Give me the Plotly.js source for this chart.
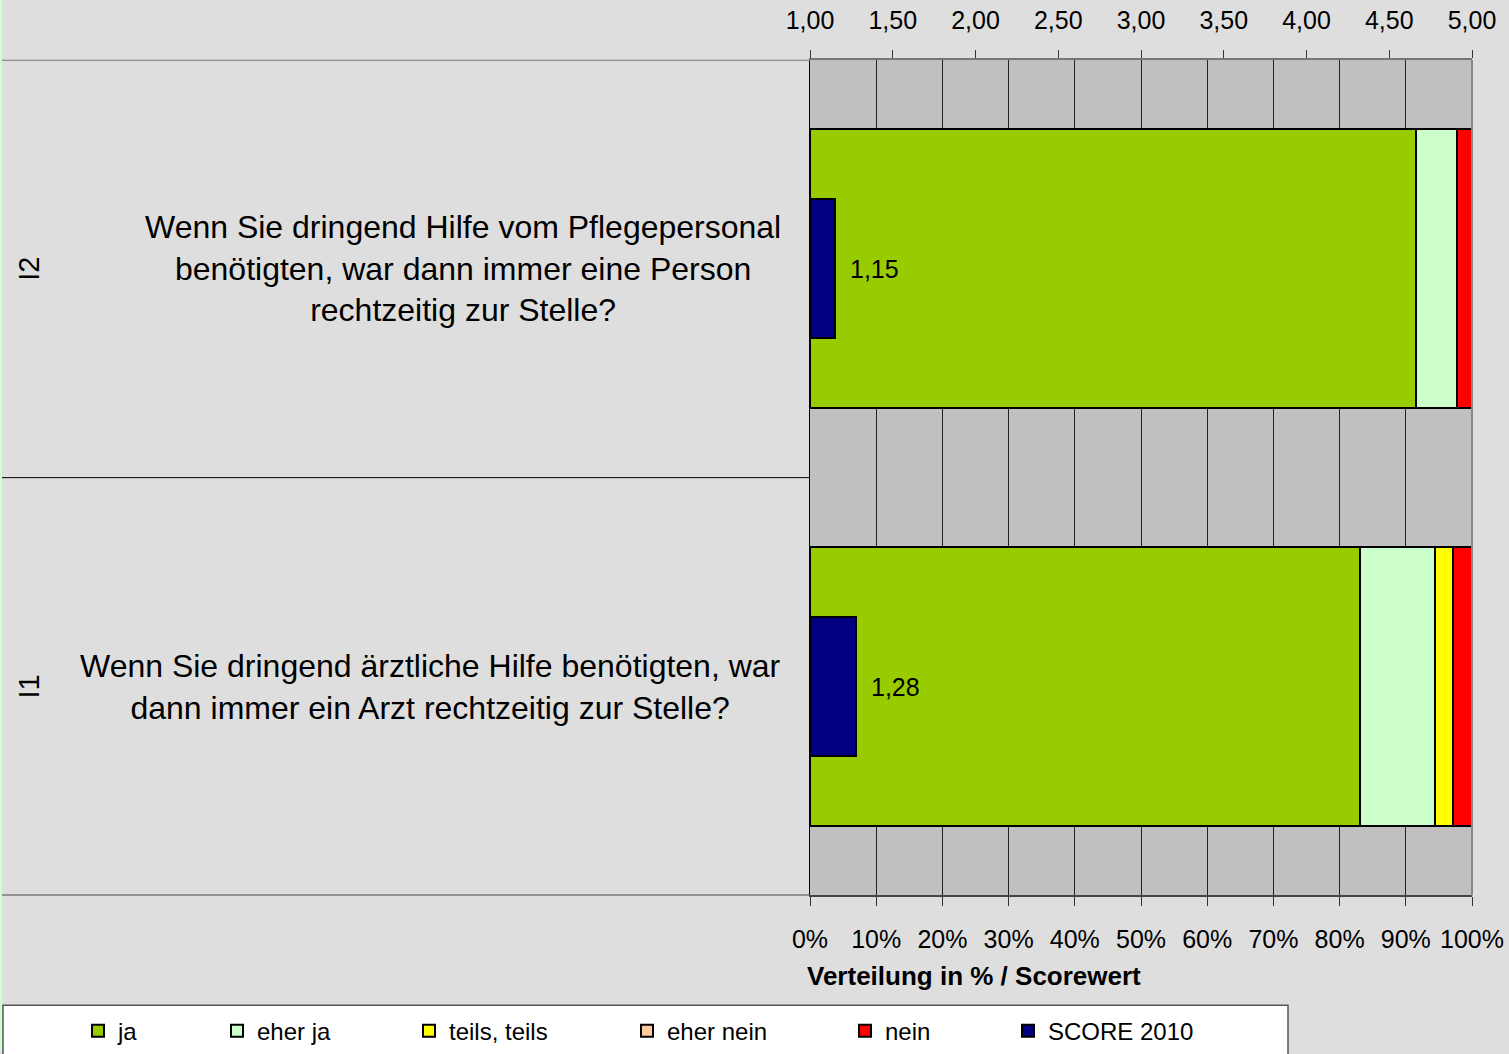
<!DOCTYPE html>
<html><head><meta charset="utf-8">
<script src="https://cdn.plot.ly/plotly-3.0.1.min.js"></script>
<style>html,body{margin:0;padding:0;background:#DEDEDE;} #chart{width:1509px;height:1054px;}</style>
</head><body><div id="chart"></div>
<script>
// ---- data ----
const categories = ['I1', 'I2'];
const categoryLabels = ['I1', 'I2'];
const questions = [
  'Wenn Sie dringend ärztliche Hilfe benötigten, war<br>dann immer ein Arzt rechtzeitig zur Stelle?',
  'Wenn Sie dringend Hilfe vom Pflegepersonal<br>benötigten, war dann immer eine Person<br>rechtzeitig zur Stelle?'
];
const seriesNames = ['ja', 'eher ja', 'teils, teils', 'eher nein', 'nein'];
const ja = [0.831, 0.915];
const eherJa = [0.113, 0.063];
const teilsTeils = [0.027, 0.0];
const eherNein = [0.0, 0.0];
const nein = [0.029, 0.022];
const scoreName = 'SCORE 2010';
const score2010 = [1.28, 1.15];
const scoreMin = 1, scoreMax = 5;
const axisTitle = 'Verteilung in % / Scorewert';

// ---- styles ----
const seriesColors = ['#99CC00', '#CCFFCC', '#FFFF00', '#FFCC99', '#FF0000'];
const scoreColor = '#000080';
const W = 1509, H = 1054;
const plotL = 810, plotR = 1472, plotT = 60, plotB = 898;
const FONT = 'Liberation Sans, Arial, sans-serif';
const px = v => v / W;
const py = v => 1 - v / H;

const seriesValues = [ja, eherJa, teilsTeils, eherNein, nein];
const traces = seriesValues.map((vals, i) => ({
  type: 'bar', orientation: 'h', name: seriesNames[i],
  y: categories, x: vals, width: 2/3,
  xaxis: 'x', yaxis: 'y',
  marker: {color: seriesColors[i], line: {color: '#000', width: 2}},
  legend: i === 0 ? 'legend' : 'legend' + (i + 1),
  hoverinfo: 'x+name'
}));
traces.push({
  type: 'bar', orientation: 'h', name: scoreName,
  y: categories, x: score2010.map(v => v - scoreMin), base: scoreMin, width: 1/3,
  xaxis: 'x2', yaxis: 'y',
  marker: {color: scoreColor, line: {color: '#000', width: 2}},
  legend: 'legend6',
  hoverinfo: 'name'
});

// legend text start positions (px) in reference
const legendTextX = [118, 257, 449, 667, 885, 1048];
const legendY = 1034;
const legends = {};
legendTextX.forEach((tx, i) => {
  const key = i === 0 ? 'legend' : 'legend' + (i + 1);
  legends[key] = {
    x: px(tx - 40), xanchor: 'left', y: py(legendY), yanchor: 'middle',
    orientation: 'h', bgcolor: 'rgba(0,0,0,0)', borderwidth: 0,
    font: {family: FONT, size: 24, color: '#000'}
  };
});

const annotations = [];
categories.forEach((c, i) => {
  annotations.push({
    xref: 'paper', yref: 'y', x: px(783), y: c, xanchor: 'right', yanchor: 'middle',
    text: questions[i], align: 'center', showarrow: false,
    font: {family: FONT, size: 32, color: '#000'}
  });
  annotations.push({
    xref: 'paper', yref: 'y', x: px(29), y: c, xanchor: 'center', yanchor: 'middle',
    text: categoryLabels[i], textangle: -90, showarrow: false,
    font: {family: FONT, size: 29, color: '#000'}
  });
  annotations.push({
    xref: 'x2', yref: 'y', x: score2010[i], y: c, xanchor: 'left', yanchor: 'middle',
    xshift: 13, text: score2010[i].toFixed(2).replace('.', ','), showarrow: false,
    font: {family: FONT, size: 25, color: '#000'}
  });
});
annotations.push({
  xref: 'paper', yref: 'paper', x: px(805), y: py(979), xanchor: 'left', yanchor: 'middle',
  text: '<b>' + axisTitle + '</b>', showarrow: false,
  font: {family: FONT, size: 26, color: '#000'}
});

const shapes = [
  // category divider lines extending left of the plot
  {type: 'line', xref: 'paper', yref: 'y', x0: px(2), x1: px(plotL), y0: 1.5, y1: 1.5, line: {color: '#777', width: 2}},
  {type: 'line', xref: 'paper', yref: 'y', x0: px(2), x1: px(plotL), y0: 0.5, y1: 0.5, line: {color: '#000', width: 1}},
  {type: 'line', xref: 'paper', yref: 'y', x0: px(2), x1: px(plotL), y0: -0.5, y1: -0.5, line: {color: '#444', width: 2}},
  // left edge thin green line
  {type: 'rect', xref: 'paper', yref: 'paper', x0: 0, x1: px(2), y0: 0, y1: 1, line: {width: 0}, fillcolor: '#CCFFCC', layer: 'below'},
  // legend box
  {type: 'rect', xref: 'paper', yref: 'paper', x0: px(3), x1: px(1288), y0: -0.01, y1: py(1008), line: {color: '#555', width: 1.5}, fillcolor: '#FFFFFF', layer: 'below'},
  // right plot border
  {type: 'line', xref: 'paper', yref: 'paper', x0: px(plotR), x1: px(plotR), y0: py(plotB), y1: py(plotT), line: {color: '#888', width: 2}}
];

const layout = Object.assign({
  width: W, height: H,
  margin: {l: 0, r: 0, t: 0, b: 0, pad: 0},
  paper_bgcolor: '#DEDEDE', plot_bgcolor: '#C0C0C0',
  separators: ',.',
  barmode: 'stack',
  font: {family: FONT, size: 25, color: '#000'},
  xaxis: {
    domain: [px(plotL), px(plotR)], range: [0, 1], dtick: 0.1, tick0: 0, tickformat: '.0%',
    showgrid: true, gridcolor: '#222', gridwidth: 1, zeroline: false,
    ticks: 'outside', ticklen: 9, tickcolor: '#333', tickwidth: 1,
    showline: true, linecolor: '#444', linewidth: 2,
    tickfont: {family: FONT, size: 25, color: '#000'}, ticklabelstandoff: 12,
    fixedrange: true
  },
  xaxis2: {
    overlaying: 'x', side: 'top', anchor: 'y', range: [scoreMin, scoreMax], dtick: 0.5, tick0: 1,
    tickformat: '.2f', showgrid: false, zeroline: false,
    ticks: 'outside', ticklen: 8, tickcolor: '#333', tickwidth: 1,
    showline: true, linecolor: '#777', linewidth: 2,
    tickfont: {family: FONT, size: 25, color: '#000'}, ticklabelstandoff: 11,
    fixedrange: true
  },
  yaxis: {
    domain: [py(plotB), py(plotT)], type: 'category', categoryorder: 'array', categoryarray: categories,
    range: [-0.5, 1.5], showticklabels: false, ticks: '', showgrid: false, zeroline: false,
    showline: true, linecolor: '#000', linewidth: 1, fixedrange: true
  },
  annotations: annotations,
  shapes: shapes,
  showlegend: true
}, legends);

Plotly.newPlot('chart', traces, layout, {displayModeBar: false, staticPlot: true});
</script>
</body></html>
